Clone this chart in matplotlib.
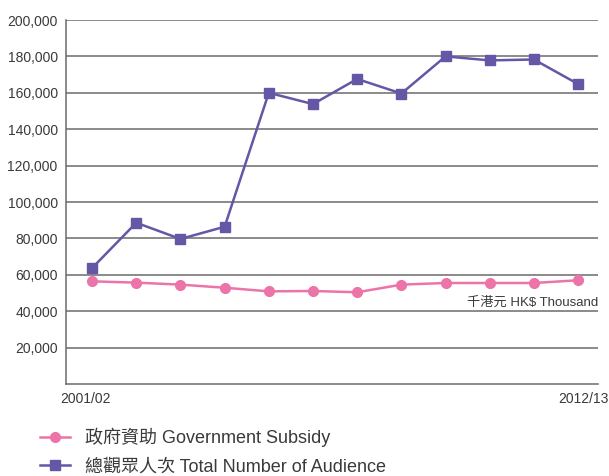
import numpy as np
import matplotlib.pyplot as plt

plt.rcParams['font.family'] = ['Liberation Sans', 'Noto Sans CJK TC', 'DejaVu Sans']

years = ['2001/02', '2002/03', '2003/04', '2004/05', '2005/06', '2006/07',
         '2007/08', '2008/09', '2009/10', '2010/11', '2011/12', '2012/13']
audience = [63700, 88600, 79700, 86400, 160000, 153800,
            167600, 159600, 180000, 177800, 178300, 164800]
subsidy = [56400, 55700, 54600, 52900, 50900, 51100,
           50400, 54600, 55500, 55500, 55500, 57000]
y_ticks = [20000, 40000, 60000, 80000, 100000, 120000, 140000, 160000, 180000, 200000]

purple = '#6656a6'
pink = '#ec74a9'
grid_col = '#6b6b6b'
text_col = '#3a3a3a'

fig = plt.figure(figsize=(6.09, 4.76), dpi=100)
ax = fig.add_axes([66 / 609, 1 - 384 / 476, (598 - 66) / 609, (384 - 20) / 476])

x = np.arange(len(years))
ax.plot(x, subsidy, color=pink, lw=1.8, marker='o', ms=7, mec=pink,
        label='政府資助 Government Subsidy', zorder=3)
ax.plot(x, audience, color=purple, lw=1.8, marker='s', ms=7.5, mec=purple,
        label='總觀眾人次 Total Number of Audience', zorder=3)

ax.set_xlim(-0.59, 11.45)
ax.set_ylim(0, 200000)
ax.set_yticks(y_ticks)
ax.set_yticklabels([f'{v:,}' for v in y_ticks])
# the two end labels sit a little off the first and last points
ax.set_xticks([-0.14, 11.11])
ax.set_xticklabels([years[0], years[-1]])
ax.tick_params(length=0, labelsize=10, colors=text_col, pad=6)
ax.tick_params(axis='x', pad=6)

for v in y_ticks:
    ax.axhline(v, color=grid_col, lw=1.1, zorder=1)
for s in ['top', 'right']:
    ax.spines[s].set_visible(False)
for s in ['left', 'bottom']:
    ax.spines[s].set_color(grid_col)
    ax.spines[s].set_linewidth(1.1)

ax.text(11.45, 44500, '千港元 HK$ Thousand', ha='right', va='center',
        fontsize=9.5, color=text_col)

handles, labels = ax.get_legend_handles_labels()
fig.legend(handles, labels, loc='upper left', bbox_to_anchor=(40 / 609, 1 - 428 / 476),
           frameon=False, fontsize=13, labelcolor=text_col, handlelength=1.65,
           handletextpad=0.85, labelspacing=0.62, borderpad=0, borderaxespad=0)

fig.savefig('out.png', dpi=100)
